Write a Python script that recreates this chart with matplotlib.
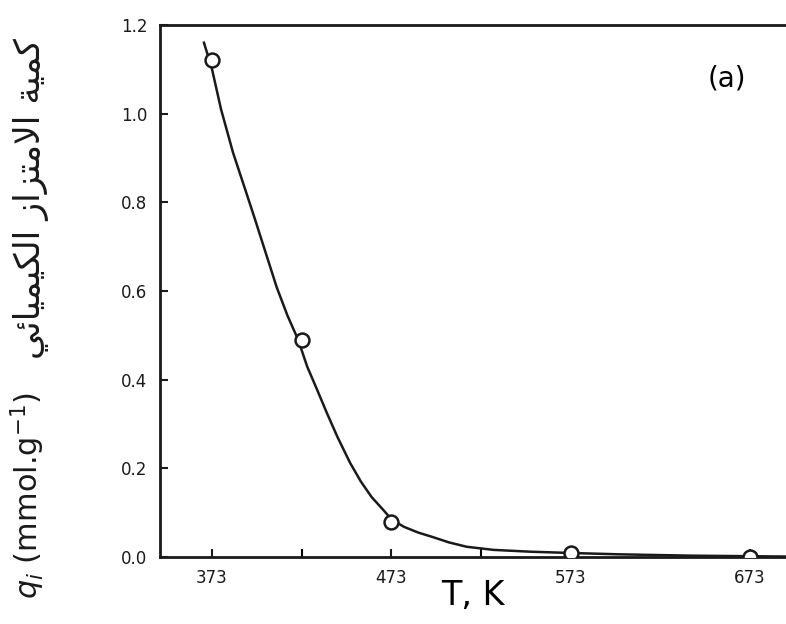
import matplotlib.pyplot as plt

# measured points
temps = [373, 423, 473, 573, 673]
q_vals = [1.12, 0.49, 0.08, 0.01, 0.0]

# hand-drawn smooth curve
curve_T = [368.5, 373, 378, 384.7, 391, 397, 403, 409, 415, 421, 426, 431.6, 437, 443,
           450, 456, 462, 468.5, 473, 480, 488, 496, 505, 515, 530, 550, 573, 600,
           640, 693]
curve_q = [1.16, 1.10, 1.01, 0.912, 0.835, 0.761, 0.685, 0.609, 0.545, 0.49, 0.43,
           0.377, 0.325, 0.27, 0.212, 0.17, 0.135, 0.106, 0.085, 0.068, 0.055, 0.045,
           0.033, 0.023, 0.016, 0.012, 0.009, 0.006, 0.003, 0.001]

x_ticks = [373, 473, 573, 673]
x_minor = [423, 523]
y_ticks = [0.0, 0.2, 0.4, 0.6, 0.8, 1.0, 1.2]

# Arabic label in visual order with presentation forms (matplotlib does no shaping)
arabic = "\ufef2\ufe8b\ufe8e\ufef4\ufee4\ufef4\ufedc\ufedf\ufe8d \ufeaf\ufe8d\ufeb0\ufe98\ufee3\ufefb\ufe8d \ufe94\ufef4\ufee4\ufedb"

fig = plt.figure(figsize=(7.86, 6.24), dpi=100)
ax = fig.add_axes([0.2036, 0.1074, 0.7964, 0.8526])

ax.plot(curve_T, curve_q, color="#1a1a1a", lw=1.8, zorder=2)
ax.plot(temps, q_vals, "o", ms=10, mfc="white", mec="#1a1a1a", mew=1.8, zorder=3)

ax.set_xlim(344, 693)
ax.set_ylim(0, 1.2)
ax.set_xticks(x_ticks)
ax.set_xticks(x_minor, minor=True)
ax.set_yticks(y_ticks)
ax.set_yticklabels([f"{v:.1f}" for v in y_ticks])
ax.tick_params(direction="in", length=6, width=1.5, labelsize=12, colors="#1a1a1a", pad=9)
ax.tick_params(which="minor", direction="in", length=6, width=1.5)

ax.spines["right"].set_visible(False)
for s in ["left", "bottom", "top"]:
    ax.spines[s].set_linewidth(2)
    ax.spines[s].set_color("#1a1a1a")

ax.text(0.905, 0.9, "(a)", transform=ax.transAxes, fontsize=20, ha="center", va="center")
ax.set_xlabel("T, K", fontsize=24, labelpad=-6)

fig.text(0.035, 0.04, "$q_i$ (mmol.g$^{-1}$)", rotation=90, fontsize=22,
         ha="center", va="bottom", color="#1a1a1a")
fig.text(0.04, 0.425, arabic, rotation=90, fontsize=25,
         ha="center", va="bottom", color="#1a1a1a")

fig.savefig("out.png", dpi=100)
